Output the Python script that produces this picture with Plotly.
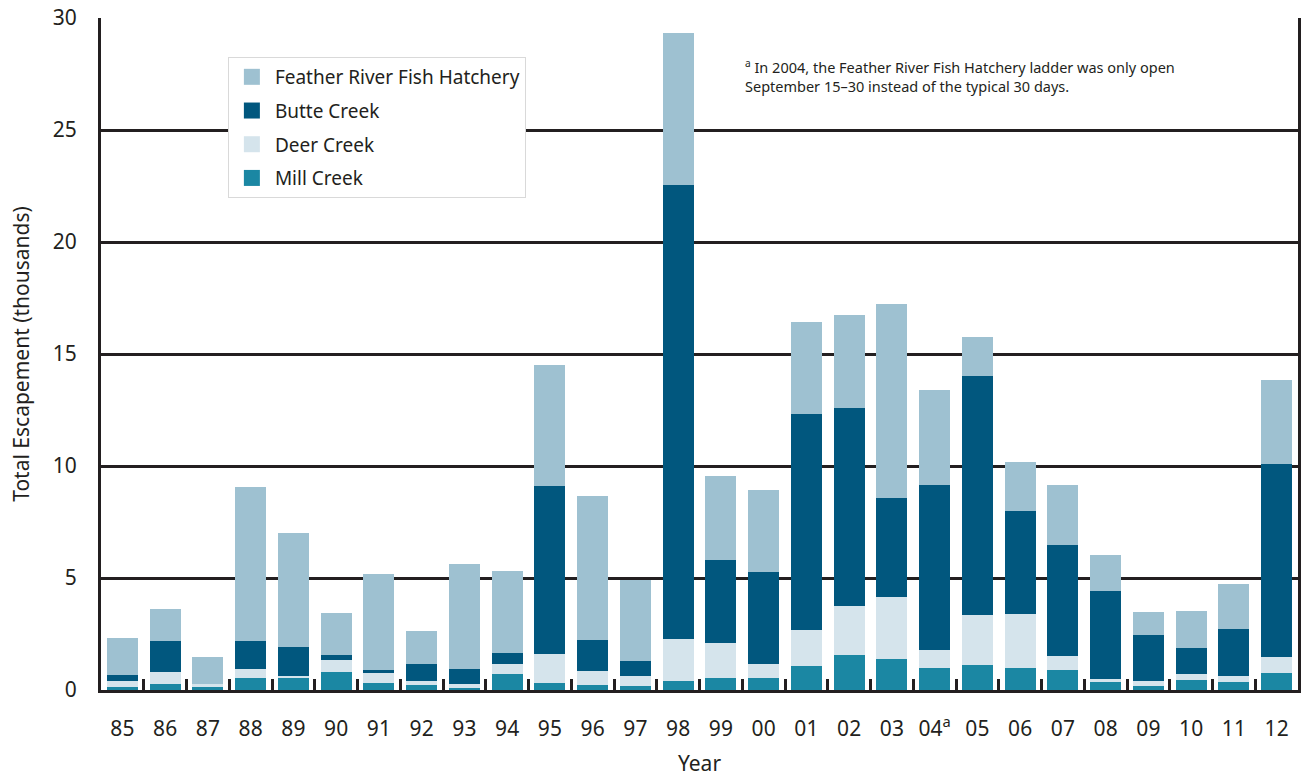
import plotly.graph_objects as go

years = ["85", "86", "87", "88", "89", "90", "91", "92", "93", "94", "95", "96", "97", "98",
         "99", "00", "01", "02", "03", "04", "05", "06", "07", "08", "09", "10", "11", "12"]
year_labels = ["85", "86", "87", "88", "89", "90", "91", "92", "93", "94", "95", "96", "97", "98",
               "99", "00", "01", "02", "03", "04<sup>a</sup>", "05", "06", "07", "08", "09", "10", "11", "12"]

mill_creek = [0.15, 0.27, 0.12, 0.54, 0.55, 0.80, 0.31, 0.22, 0.08, 0.71, 0.31, 0.22, 0.18, 0.40,
              0.54, 0.54, 1.07, 1.56, 1.38, 0.98, 1.12, 0.98, 0.89, 0.36, 0.20, 0.45, 0.36, 0.76]
deer_creek = [0.25, 0.53, 0.15, 0.40, 0.08, 0.54, 0.45, 0.18, 0.19, 0.45, 1.30, 0.63, 0.45, 1.88,
              1.56, 0.62, 1.61, 2.19, 2.77, 0.81, 2.23, 2.41, 0.63, 0.13, 0.20, 0.26, 0.27, 0.71]
butte_creek = [0.25, 1.39, 0.00, 1.25, 1.29, 0.22, 0.13, 0.76, 0.67, 0.49, 7.50, 1.38, 0.66, 20.26,
               3.70, 4.11, 9.64, 8.84, 4.42, 7.36, 10.67, 4.60, 4.95, 3.93, 2.06, 1.17, 2.09, 8.62]
feather_river = [1.65, 1.43, 1.20, 6.87, 5.08, 1.88, 4.29, 1.47, 4.69, 3.66, 5.40, 6.43, 3.62, 6.79,
                 3.75, 3.66, 4.11, 4.15, 8.66, 4.24, 1.74, 2.19, 2.68, 1.61, 1.02, 1.65, 2.01, 3.75]

y_ticks = [0, 5, 10, 15, 20, 25, 30]

FONT = "Noto Sans"
INK = "#231f20"

series = [
    ("Mill Creek", mill_creek, "#1b87a3"),
    ("Deer Creek", deer_creek, "#d5e4ec"),
    ("Butte Creek", butte_creek, "#01577e"),
    ("Feather River Fish Hatchery", feather_river, "#9ec1d1"),
]

fig = go.Figure()
for name, vals, col in series:
    fig.add_trace(go.Bar(x=years, y=vals, name=name, showlegend=False,
                         marker=dict(color=col, line=dict(width=0))))
# legend entries with larger square swatches (top to bottom: hatchery first)
for name, vals, col in reversed(series):
    fig.add_trace(go.Scatter(x=[None], y=[None], mode="markers", name=name,
                             legendgroup=name, showlegend=True,
                             marker=dict(symbol="square", size=20, color=col, line=dict(width=0))))

fig.update_layout(
    barmode="stack",
    bargap=0.27,
    width=1302, height=777,
    margin=dict(l=101, r=4, t=18, b=87, autoexpand=False),
    paper_bgcolor="white", plot_bgcolor="white",
    font=dict(family=FONT, size=21, color=INK),
    legend=dict(
        x=0.106, y=0.942, xanchor="left", yanchor="top",
        traceorder="grouped",
        bgcolor="white", bordercolor="#d9d9d9", borderwidth=1,
        font=dict(family=FONT, size=19, color=INK),
        itemsizing="trace",
        itemwidth=36,
        tracegroupgap=6,
    ),
    annotations=[dict(
        xref="paper", yref="paper", x=0.536, y=0.946, xanchor="left", yanchor="top",
        align="left", showarrow=False,
        text="<sup>a</sup> In 2004, the Feather River Fish Hatchery ladder was only open<br>September 15\u201330 instead of the typical 30 days.",
        font=dict(family=FONT, size=14.5, color=INK),
    )],
)

fig.update_xaxes(
    type="category",
    range=[-0.5, 27.5],
    tickmode="array", tickvals=years, ticktext=year_labels,
    tickangle=0,
    showline=True, linecolor=INK, linewidth=3,
    ticks="inside", tickson="boundaries", ticklen=11, tickwidth=3, tickcolor=INK,
    ticklabelstandoff=18,
    tickfont=dict(family=FONT, size=21, color=INK),
    title=dict(text="Year", font=dict(family=FONT, size=21, color=INK), standoff=19),
    showgrid=False,
)
fig.update_yaxes(
    range=[0, 30],
    tickmode="array", tickvals=y_ticks,
    showline=True, linecolor=INK, linewidth=3, mirror=True,
    showgrid=True, gridcolor=INK, gridwidth=3,
    zeroline=False,
    ticks="", ticklabelstandoff=17,
    tickfont=dict(family=FONT, size=21, color=INK),
    title=dict(text="Total Escapement (thousands)", font=dict(family=FONT, size=21, color=INK), standoff=18),
)

fig.write_html("out.html", config={"displayModeBar": False},
               post_script="document.body.style.margin='0';document.body.style.overflow='hidden';")
